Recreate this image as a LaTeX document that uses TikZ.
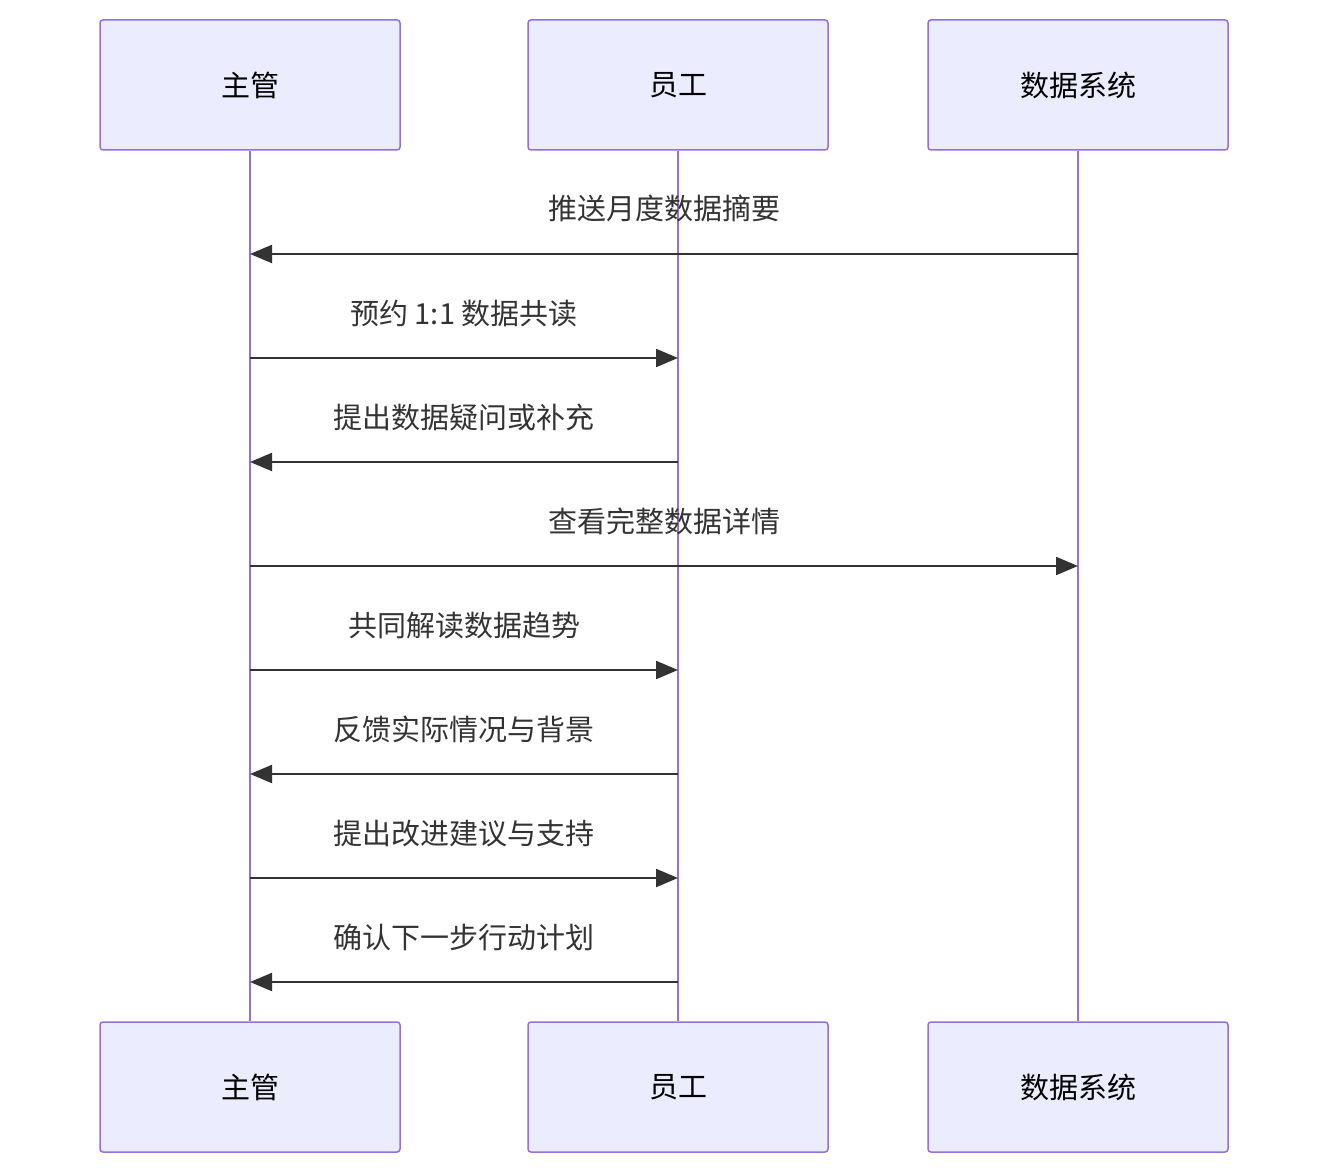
\documentclass[tikz,border=0pt]{standalone}
\usepackage{fontspec}
\setmainfont{Noto Sans CJK SC}
\usetikzlibrary{arrows.meta,calc}
\definecolor{bfill}{HTML}{ECECFF}
\definecolor{bline}{HTML}{9370DB}
\definecolor{ink}{HTML}{333333}
\begin{document}
\begin{tikzpicture}[x=1pt,y=-1pt,
  actor/.style={draw=bline,fill=bfill,line width=1.5pt,rounded corners=3pt,minimum width=300pt,minimum height=130pt,inner sep=0,font=\fontsize{29}{34}\selectfont,text=black},
  life/.style={draw=bline,line width=2.5pt},
  msg/.style={draw=ink,line width=2.2pt,-{Triangle[length=22pt,width=18pt]}},
  lbl/.style={font=\fontsize{29}{34}\selectfont,text=ink,anchor=base}]
\useasboundingbox (0,0) rectangle (1328,1174);
\foreach \n/\x/\t in {a/250/主管,b/678/员工,c/1078/数据系统}{
  \node[actor] (\n top) at (\x,85) {\t};
  \node[actor] (\n bot) at (\x,1087) {\t};
  \draw[life] (\n top.south) -- (\n bot.north);
}
\foreach \y/\s/\e/\t in {254/c/a/推送月度数据摘要, 358/a/b/预约 1:1 数据共读, 462/b/a/提出数据疑问或补充, 566/a/c/查看完整数据详情, 670/a/b/共同解读数据趋势, 774/b/a/反馈实际情况与背景, 878/a/b/提出改进建议与支持, 982/b/a/确认下一步行动计划}{
  \coordinate (s\y) at (\s top.center |- 0,\y);
  \coordinate (e\y) at (\e top.center |- 0,\y);
  \draw[msg] (s\y) -- (e\y);
  \node[lbl] (l\y) at ($(s\y)!0.5!(e\y)+(0,-34)$) {\t};
}
\end{tikzpicture}
\end{document}
